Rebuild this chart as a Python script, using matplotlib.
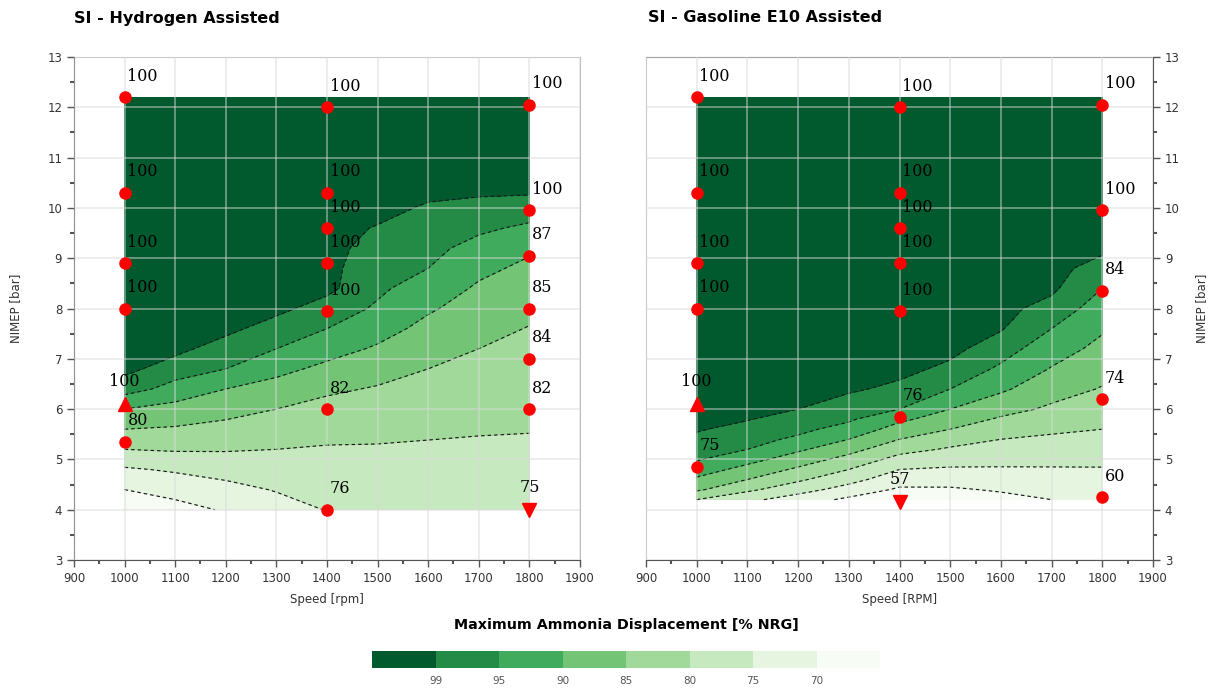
import numpy as np
import matplotlib
matplotlib.use("Agg")
import matplotlib.pyplot as plt
from matplotlib.colors import ListedColormap, BoundaryNorm
from matplotlib.ticker import MultipleLocator

# speed columns shared by both maps
speed_grid = [1000, 1100, 1200, 1300, 1400, 1500, 1600, 1700, 1800]

# hydrogen assisted map, rows of NIMEP
h2_nimep_grid = [4.0, 4.4, 4.8, 5.2, 5.6, 6.0, 6.4, 6.8, 7.2, 7.6, 8.0,
                 8.4, 8.8, 9.2, 9.6, 10.0, 10.4, 12.2]
h2_disp = [
    [66.0, 68.2, 70.5, 72.9, 75.2, 76.0, 75.8, 75.5, 75.2],
    [70.0, 71.8, 73.5, 75.3, 76.5, 77.2, 77.0, 76.7, 76.6],
    [74.4, 75.6, 76.8, 77.6, 78.1, 78.4, 78.2, 78.0, 78.0],
    [80.0, 80.5, 80.4, 80.0, 79.6, 79.6, 79.4, 79.2, 79.2],
    [85.0, 84.5, 83.5, 82.5, 81.5, 81.1, 80.7, 80.4, 80.2],
    [90.0, 88.2, 86.7, 85.0, 83.5, 82.8, 82.1, 81.6, 81.1],
    [97.0, 93.3, 90.0, 88.1, 85.8, 84.6, 83.6, 82.7, 82.0],
    [100., 97.2, 95.0, 91.4, 88.8, 86.9, 85.0, 83.9, 83.0],
    [100., 100., 97.3, 95.0, 91.9, 89.4, 86.8, 85.0, 83.9],
    [100., 100., 100., 97.3, 95.0, 91.9, 88.6, 86.4, 84.8],
    [100., 100., 100., 100., 97.3, 94.4, 90.6, 87.9, 86.1],
    [100., 100., 100., 100., 100., 95.8, 92.8, 89.3, 87.5],
    [100., 100., 100., 100., 100., 96.8, 95.0, 91.2, 88.9],
    [100., 100., 100., 100., 100., 97.8, 96.2, 93.5, 90.8],
    [100., 100., 100., 100., 100., 98.8, 97.4, 95.8, 94.2],
    [100., 100., 100., 100., 100., 100., 98.6, 97.8, 97.2],
    [100., 100., 100., 100., 100., 100., 100., 100., 100.],
    [100., 100., 100., 100., 100., 100., 100., 100., 100.],
]

# gasoline E10 assisted map
e10_nimep_grid = [4.2, 4.4, 4.6, 4.8, 5.0, 5.2, 5.4, 5.6, 5.8, 6.0, 6.4,
                  6.8, 7.2, 7.6, 8.0, 8.4, 8.8, 9.2, 9.6, 12.2]
e10_disp = [
    [80.0, 76.2, 72.5, 69.0, 66.4, 66.9, 68.5, 70.0, 70.9],
    [85.8, 81.0, 77.0, 73.0, 69.3, 69.4, 70.5, 71.5, 72.2],
    [89.2, 85.0, 80.8, 76.7, 72.1, 71.9, 72.5, 73.1, 73.4],
    [92.5, 88.3, 84.2, 80.0, 75.0, 74.4, 74.5, 74.6, 74.7],
    [95.4, 91.7, 87.5, 83.3, 78.3, 76.9, 76.4, 76.2, 76.0],
    [96.8, 95.0, 90.8, 86.7, 81.7, 79.4, 78.2, 77.7, 77.3],
    [98.3, 96.5, 94.2, 90.0, 85.0, 82.1, 80.0, 79.2, 78.7],
    [99.3, 97.9, 96.1, 93.3, 87.9, 85.0, 82.2, 80.8, 80.0],
    [100., 99.2, 97.5, 95.7, 91.0, 87.5, 84.4, 82.5, 81.2],
    [100., 99.8, 99.0, 97.2, 95.0, 90.0, 86.7, 84.2, 82.4],
    [100., 100., 100., 99.5, 98.2, 95.0, 90.8, 87.0, 84.7],
    [100., 100., 100., 100., 100., 98.2, 94.2, 89.7, 86.7],
    [100., 100., 100., 100., 100., 100., 97.0, 92.3, 88.6],
    [100., 100., 100., 100., 100., 100., 99.3, 95.0, 90.6],
    [100., 100., 100., 100., 100., 100., 100., 97.7, 92.8],
    [100., 100., 100., 100., 100., 100., 100., 99.7, 95.0],
    [100., 100., 100., 100., 100., 100., 100., 100., 97.7],
    [100., 100., 100., 100., 100., 100., 100., 100., 99.7],
    [100., 100., 100., 100., 100., 100., 100., 100., 100.],
    [100., 100., 100., 100., 100., 100., 100., 100., 100.],
]

# measured operating points with their displacement
h2_speed = [1000, 1000, 1000, 1000, 1000, 1000,
            1400, 1400, 1400, 1400, 1400, 1400, 1400,
            1800, 1800, 1800, 1800, 1800, 1800, 1800]
h2_nimep = [12.2, 10.3, 8.9, 8.0, 6.1, 5.35,
            12.0, 10.3, 9.6, 8.9, 7.95, 6.0, 4.0,
            12.05, 9.95, 9.05, 8.0, 7.0, 6.0, 4.0]
h2_value = [100, 100, 100, 100, 100, 80,
            100, 100, 100, 100, 100, 82, 76,
            100, 100, 87, 85, 84, 82, 75]
h2_marker = ['o', 'o', 'o', 'o', '^', 'o',
             'o', 'o', 'o', 'o', 'o', 'o', 'o',
             'o', 'o', 'o', 'o', 'o', 'o', 'v']

e10_speed = [1000, 1000, 1000, 1000, 1000, 1000,
             1400, 1400, 1400, 1400, 1400, 1400, 1400,
             1800, 1800, 1800, 1800, 1800]
e10_nimep = [12.2, 10.3, 8.9, 8.0, 6.1, 4.85,
             12.0, 10.3, 9.6, 8.9, 7.95, 5.85, 4.15,
             12.05, 9.95, 8.35, 6.2, 4.25]
e10_value = [100, 100, 100, 100, 100, 75,
             100, 100, 100, 100, 100, 76, 57,
             100, 100, 84, 74, 60]
e10_marker = ['o', 'o', 'o', 'o', '^', 'o',
              'o', 'o', 'o', 'o', 'o', 'o', 'v',
              'o', 'o', 'o', 'o', 'o']

levels = [60, 70, 75, 80, 85, 90, 95, 99, 101]
bar_ticks = [99, 95, 90, 85, 80, 75, 70]
greens = ['#f7fcf5', '#e5f5e0', '#c7e9c0', '#a1d99b', '#74c476',
          '#41ab5d', '#238b45', '#005a2e']
cmap = ListedColormap(greens)
norm = BoundaryNorm(levels, cmap.N)

label_font = ['DejaVu Serif']


def draw_map(ax, nimep_grid, disp, speed, nimep, value, marker):
    X, Y = np.meshgrid(speed_grid, nimep_grid)
    Z = np.array(disp)
    cf = ax.contourf(X, Y, Z, levels=levels, cmap=cmap, norm=norm, zorder=1)
    cl = ax.contour(X, Y, Z, levels=levels[1:-1], colors='#1a1a1a',
                    linewidths=0.85, zorder=2)
    cl.set_linestyle((0, (3, 2.5)))

    for s, n, v, m in zip(speed, nimep, value, marker):
        if m == 'o':
            ax.plot(s, n, 'o', color='#ff0000', markersize=8, zorder=4)
            ax.annotate(str(v), (s, n), xytext=(2, 9), textcoords='offset points',
                        ha='left', va='bottom', fontsize=11.5,
                        family=label_font, zorder=5)
        else:
            ax.plot(s, n, m, color='#ff0000', markersize=10, zorder=4)
            ax.annotate(str(v), (s, n), xytext=(0, 10), textcoords='offset points',
                        ha='center', va='bottom', fontsize=11.5,
                        family=label_font, zorder=5)

    ax.set_xlim(900, 1900)
    ax.set_ylim(3, 13)
    ax.xaxis.set_major_locator(MultipleLocator(100))
    ax.xaxis.set_minor_locator(MultipleLocator(50))
    ax.yaxis.set_major_locator(MultipleLocator(1))
    ax.yaxis.set_minor_locator(MultipleLocator(0.5))
    ax.set_axisbelow(False)
    ax.grid(True, which='major', color='#d9d9d9', alpha=0.6, linewidth=1.1)
    ax.tick_params(which='major', length=5, width=1, color='#555555',
                   labelsize=8.5, labelcolor='#333333')
    ax.tick_params(which='minor', length=3, width=1.5, color='#555555')
    for sp in ax.spines.values():
        sp.set_color('#c0c0c0')
    ax.spines['bottom'].set_color('#555555')
    return cf


fig = plt.figure(figsize=(12.12, 6.93), dpi=100)
ax1 = fig.add_axes([74 / 1212, 1 - 560 / 693, 506 / 1212, 503 / 693])
ax2 = fig.add_axes([646 / 1212, 1 - 560 / 693, 507 / 1212, 503 / 693])
cax = fig.add_axes([372 / 1212, 1 - 668 / 693, 508 / 1212, 17 / 693])

cf = draw_map(ax1, h2_nimep_grid, h2_disp, h2_speed, h2_nimep, h2_value, h2_marker)
draw_map(ax2, e10_nimep_grid, e10_disp, e10_speed, e10_nimep, e10_value, e10_marker)

ax1.spines['left'].set_color('#555555')
ax1.set_xlabel('Speed [rpm]', fontsize=8.5, color='#333333', labelpad=6)
ax1.set_ylabel('NIMEP [bar]', fontsize=8.5, color='#333333', labelpad=18)

ax2.yaxis.tick_right()
ax2.yaxis.set_label_position('right')
ax2.spines['right'].set_color('#555555')
ax2.spines['top'].set_color('#777777')
ax2.set_xlabel('Speed [RPM]', fontsize=8.5, color='#333333', labelpad=6)
ax2.set_ylabel('NIMEP [bar]', fontsize=8.5, color='#333333', labelpad=11)

fig.text(74 / 1212, 1 - 18 / 693, 'SI - Hydrogen Assisted', fontsize=11.5,
         fontweight='bold', va='center', ha='left')
fig.text(648 / 1212, 1 - 18 / 693, 'SI - Gasoline E10 Assisted', fontsize=11.5,
         fontweight='bold', va='center', ha='left')

cb = fig.colorbar(cf, cax=cax, orientation='horizontal', spacing='uniform',
                  ticks=bar_ticks)
cax.invert_xaxis()
cax.minorticks_off()
cb.outline.set_visible(False)
cax.tick_params(length=0, labelsize=7.5, labelcolor='#555555', pad=6)
cax.set_xticklabels([str(t) for t in bar_ticks])
fig.text(626 / 1212, 1 - 625 / 693, 'Maximum Ammonia Displacement [% NRG]',
         fontsize=10.3, fontweight='bold', ha='center', va='center')

fig.savefig('out.png', dpi=100)
